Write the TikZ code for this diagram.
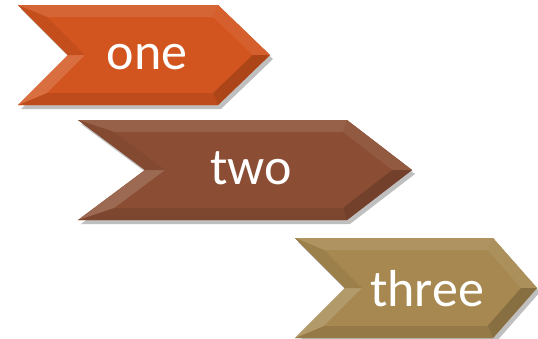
\documentclass[tikz,border=0pt]{standalone}
\usepackage{fontspec}
\usepackage{xcolor}
\usepackage{tikz}
\newfontfamily\carlito{Carlito}
\definecolor{oneclr}{RGB}{210,84,30}
\definecolor{twoclr}{RGB}{139,78,52}
\definecolor{threeclr}{RGB}{166,136,80}

\begin{document}
\begin{tikzpicture}[x=1pt,y=-1pt,
  lbl/.style={text=white,inner sep=0pt,font=\carlito\fontsize{52}{60}\selectfont},
  shade/.style={fill=black,opacity=0.25}]

  \useasboundingbox (0,0) rectangle (538,338);

  \foreach \nm/\L/\T/\N/\R/\P/\clr/\tx/\ty in
    {one/18/5/50/218/270/oneclr/147/57,
     two/78/120/67/347/412/twoclr/251/168,
     three/295/238/50/493/537/threeclr/427/289}{
    \pgfmathsetmacro{\M}{\T+50}
    \pgfmathsetmacro{\B}{\T+100}
    \pgfmathsetmacro{\oN}{\L+\N}
    \pgfmathsetmacro{\hl}{12*sqrt(\N*\N+2500)/50}
    \pgfmathsetmacro{\hr}{12*sqrt((\P-\R)*(\P-\R)+2500)/50}
    \pgfmathsetmacro{\iL}{\L+\hl+\N*12/50}
    \pgfmathsetmacro{\iN}{\oN+\hl}
    \pgfmathsetmacro{\iR}{\R+(\P-\R)*12/50-\hr}
    \pgfmathsetmacro{\iP}{\P-\hr}
    \pgfmathsetmacro{\iT}{\T+12}
    \pgfmathsetmacro{\iB}{\B-12}
    % shadow
    \fill[shade,shift={(3,4)}] (\L,\T) -- (\R,\T) -- (\P,\M) -- (\R,\B) -- (\L,\B) -- (\oN,\M) -- cycle;
    % body
    \fill[\clr] (\L,\T) -- (\R,\T) -- (\P,\M) -- (\R,\B) -- (\L,\B) -- (\oN,\M) -- cycle;
    % bevel
    \fill[\clr!90!white] (\L,\T) -- (\R,\T) -- (\iR,\iT) -- (\iL,\iT) -- cycle;
    \fill[\clr!93!white] (\R,\T) -- (\P,\M) -- (\iP,\M) -- (\iR,\iT) -- cycle;
    \fill[\clr!82!black] (\P,\M) -- (\R,\B) -- (\iR,\iB) -- (\iP,\M) -- cycle;
    \fill[\clr!90!black] (\R,\B) -- (\L,\B) -- (\iL,\iB) -- (\iR,\iB) -- cycle;
    \fill[\clr!85!white] (\L,\B) -- (\oN,\M) -- (\iN,\M) -- (\iL,\iB) -- cycle;
    \fill[\clr!94!black] (\L,\T) -- (\oN,\M) -- (\iN,\M) -- (\iL,\iT) -- cycle;
    \node[lbl] (\nm) at (\tx,\ty) {\nm};
  }

\end{tikzpicture}
\end{document}
